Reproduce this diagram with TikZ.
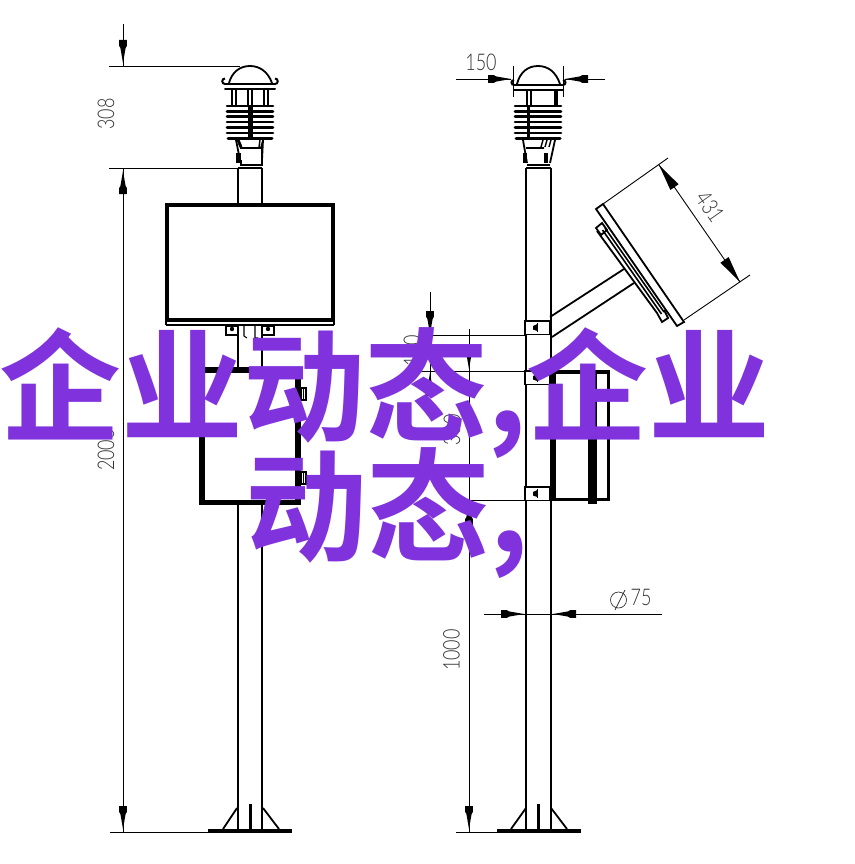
\documentclass[tikz,border=0pt]{standalone}
\usepackage{fontspec}
\setsansfont{Lato Light}
\newfontfamily\cjkf{Noto Sans CJK SC}[BoldFont=* Bold]
\definecolor{wm}{HTML}{8033DD}
\definecolor{dimtext}{HTML}{333333}
\newcommand{\dimlabel}[1]{\scalebox{0.78}[1]{#1}}
\tikzset{
 thinl/.style={line width=0.9pt,black},
 midl/.style={line width=1.8pt,black},
 dimhead/.pic={\fill[black] (0,0)--(-15,-2.6)--(-17,-3.8)--(-23,-3.8)--(-23,3.8)--(-17,3.8)--(-15,2.6)--cycle;},
 trihead/.pic={\fill[black] (0,0)--(-27,-5)--(-27,5)--cycle;},
 dimtxt/.style={font=\sffamily\fontsize{23}{23}\selectfont,text=dimtext,inner sep=0pt},
 wmtxt/.style={font=\cjkf\bfseries\fontsize{122}{122}\selectfont,text=wm,inner sep=0pt,anchor=base},
 fins/.pic={
  \foreach \yy in {0,5.4,10.8,16.2,21.6,27}{\draw[line width=2.6pt,line cap=round] (-23,\yy)--(23,\yy);}
  \draw[line width=3pt,line cap=round] (-22,32)--(22,32);
 }
}
\begin{document}
\begin{tikzpicture}[x=1pt,y=-1pt]
\useasboundingbox[fill=white] (0,0) rectangle (854,864);
% ---------- left elevation ----------
\draw[midl] (238,168)--(238,204) (262,168)--(262,204);
\draw[midl] (238,325)--(238,370) (262,325)--(262,370);
\draw[midl] (238,503)--(238,831) (262,503)--(262,831);
\draw[midl] (238,168)--(262,168);
% sensor
\draw[midl] (229,83) .. controls (232,72) and (240,66) .. (250,66) .. controls (260,66) and (268,72) .. (272,83);
\draw[line width=2pt,line cap=round] (225,84)--(275,84) (225,89.5)--(275,89.5);
\draw[line width=2pt] (225,84) arc[start angle=90,end angle=270,radius=2.75];
\draw[line width=2pt] (275,84) arc[start angle=90,end angle=-90,radius=2.75];
\draw[midl] (232,90)--(232,105) (236,90)--(236,105) (248,90)--(248,105) (252,90)--(252,105) (264,90)--(264,105) (268,90)--(268,105);
\pic at (250,106) {fins};
\draw[line width=5pt] (250,106)--(250,138);
\draw[midl] (236,140)--(240,160) (263,140)--(262,160) (240,148)--(262,148);
\draw[line width=3pt] (238,140)--(241,147);
\draw[line width=1.4pt] (260,140)--(259,147) (263,140)--(261,147);
\draw[line width=5pt] (238,153)--(238,163);
\draw[midl] (241,160)--(241,165)--(262,165)--(262,147);
% board
\draw[line width=3.4pt] (167,205) rectangle (333,320);
\draw[line width=1.6pt] (166,325)--(334,325) (166,320)--(166,325) (334,320)--(334,325);
\draw[midl] (226,326) rectangle (238,335) (262,326) rectangle (274,335);
\fill (232,329) circle[radius=2.2] (268,329) circle[radius=2.2];
\draw[line width=1.1pt] (244,326)--(244,336)--(247,338) (255,326)--(255,338)--(258,338);
% box
\draw[line width=6pt] (202,370)--(298,370);
\draw[line width=6pt] (202,370)--(202,501);
\draw[line width=6pt] (298,367)--(298,501);
\draw[line width=5pt] (199,502)--(301,502);
\foreach \yy in {388,472}{
 \draw[line width=1.2pt,fill=white] (301,\yy) rectangle (306,\yy+12);
 \draw[line width=1pt] (303.5,\yy)--(303.5,\yy+12);
}
% base left
\draw[line width=3.6pt] (208,831)--(292,831);
\draw[midl] (237,808)--(223,829) (263,808)--(279,829);
\draw[line width=3pt] (250.5,804)--(250.5,830);
% left dimension
\draw[thinl] (109,66)--(240,66) (109,168)--(238,168) (110,832)--(208,832);
\draw[thinl] (123,24)--(123,66) (123,168)--(123,832);
\pic[rotate=-90] at (123,63) {dimhead};
\pic[rotate=90] at (123,171) {dimhead};
\pic[rotate=-90] at (123,829) {dimhead};
\node[dimtxt,rotate=90] (d308) at (106,114) {\dimlabel{308}};
\node[dimtxt,rotate=90] (d200) at (106,450) {\dimlabel{2000}};
% ---------- right elevation ----------
\draw[midl] (526,168)--(526,831) (551,168)--(551,831) (526,168)--(551,168);
\draw[midl] (517,84) .. controls (520,72) and (528,66) .. (538,66) .. controls (548,66) and (556,72) .. (560,84);
\draw[line width=2pt,line cap=round] (514,85)--(563,85) (514,90)--(563,90);
\draw[line width=2pt] (514,85) arc[start angle=90,end angle=270,radius=2.5];
\draw[line width=2pt] (563,85) arc[start angle=90,end angle=-90,radius=2.5];
\draw[line width=1.2pt] (527,91)--(527,106) (531,91)--(531,106);
\draw[line width=4.5pt] (556,91)--(556,106);
\pic at (538,106) {fins};
\draw[line width=3pt] (528,106)--(528,138);
\draw[midl] (523,140)--(527,163) (555,140)--(550,163) (526,148)--(544,148);
\draw[line width=1.4pt] (543,140)--(541,147) (547,140)--(545,147) (551,140)--(549,147);
\draw[line width=4pt] (525,153)--(525,163) (546,153)--(546,163);
\draw[midl] (527,165)--(550,165);
% 150 dimension
\draw[thinl] (513,66)--(513,97) (563,66)--(563,97);
\draw[thinl] (456,79)--(511,79) (565,79)--(605,79);
\pic at (511,79) {dimhead};
\pic[rotate=180] at (565,79) {dimhead};
\node[dimtxt] (d150) at (481,62) {\dimlabel{150}};
% clamps
\foreach \yy in {321,371,487}{
 \draw[midl,fill=white] (525,\yy) rectangle (549.5,\yy+13.5);
 \fill (537.5,\yy+3)--(537.5,\yy+10)--(533,\yy+8.5)--(533,\yy+5)--cycle;
 \draw[line width=1pt] (537.5,\yy+2)--(537.5,\yy+11);
}
% arm
\draw[midl] (550,317)--(624,269) (552,337)--(634,283);
% panel
\draw[midl] (596,209)--(603,204)--(684,322)--(677,326)--cycle;
\draw[midl] (596,228)--(602,223)--(607,230)--(601,235)--cycle;
\draw[midl] (597,231)--(657,313)--(662,322)--(668,318)--(664,310);
\draw[line width=1.6pt] (605,228)--(664,312) (602.5,230)--(661.5,314);
% 431 dimension
\draw[thinl] (603,204)--(668,158) (684,320)--(750,275);
\draw[thinl] (659,165)--(740,282);
\pic[rotate=125] at (659,165) {trihead};
\pic[rotate=-55] at (740,282) {trihead};
\node[dimtxt,rotate=-55] (d431) at (710,207) {\dimlabel{431}};
% right box
\draw[line width=4pt] (551,372)--(610,372);
\draw[line width=5pt] (553,372)--(553,500);
\draw[line width=3pt] (608.5,372)--(608.5,500);
\draw[line width=3pt] (552,499.5)--(610,499.5);
\draw[line width=9pt] (592,372)--(592,504);
% right dimensions
\draw[thinl] (430,335)--(525,335) (410,371)--(525,371) (469,500)--(525,500) (456,832)--(497,832);
\draw[thinl] (469,329)--(469,832) (430,292)--(430,397);
\pic[rotate=-90] at (430,334) {dimhead};
\pic[rotate=90] at (430,373) {dimhead};
\pic[rotate=-90] at (469,369) {dimhead};
\pic[rotate=90] at (469,502) {dimhead};
\pic[rotate=-90] at (469,829) {dimhead};
\node[dimtxt,rotate=90] (d1000) at (451.5,650) {\dimlabel{1000}};
\node[dimtxt,rotate=90] (dfrag1) at (412,351) {\dimlabel{100}};
\node[dimtxt,rotate=90] (dfrag2) at (452,430) {\dimlabel{300}};
% base right
\draw[line width=3.6pt] (497,831)--(581,831);
\draw[midl] (526,808)--(511,829) (551,808)--(567,829);
\draw[line width=3pt] (538.5,804)--(538.5,830);
% phi 75
\draw[thinl] (484,614)--(662,614);
\pic at (524,614) {dimhead};
\pic[rotate=180] at (553,614) {dimhead};
\draw[line width=0.7pt,dimtext] (618.5,600) ellipse[x radius=8,y radius=8];
\draw[line width=0.7pt,dimtext] (615,610)--(625,590);
\node[dimtxt] (d75) at (641,597) {\dimlabel{75}};
% ---------- watermark ----------
\node[wmtxt] (wm1) at (385,432) {企业动态,企业};
\node[wmtxt] (wm2) at (387,552) {动态,};
\end{tikzpicture}
\end{document}
